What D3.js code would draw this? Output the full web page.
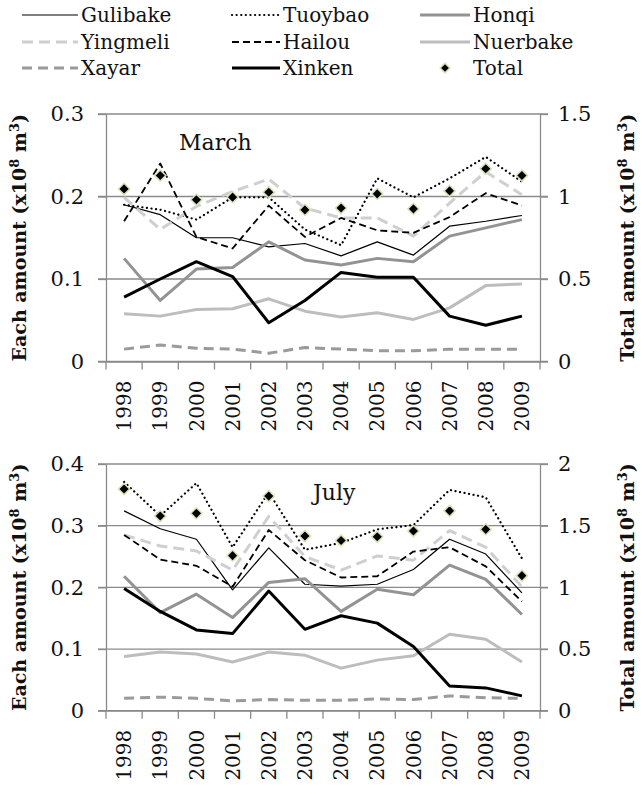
<!DOCTYPE html>
<html lang="en">
<meta charset="utf-8">
<head>
    <script src="https://d3js.org/d3.v7.min.js"></script>
    <style>
        body { margin: 0; background: #fff; }
        svg { font-family: "DejaVu Serif", serif; }
    </style>
</head>
<body>
<div id="chart"></div>
<script>
// years on the x axis
var years = ["1998","1999","2000","2001","2002","2003","2004","2005","2006","2007","2008","2009"];

// March values (x10^8 m3)
var marGulibake = [0.190,0.178,0.150,0.150,0.139,0.143,0.128,0.145,0.129,0.164,0.170,0.177];
var marTuoybao  = [0.190,0.184,0.172,0.199,0.199,0.160,0.141,0.222,0.199,0.222,0.248,0.218];
var marHonqi    = [0.125,0.074,0.112,0.114,0.145,0.123,0.117,0.125,0.121,0.152,0.162,0.172];
var marYingmeli = [0.199,0.160,0.188,0.206,0.221,0.186,0.174,0.174,0.152,0.192,0.230,0.202];
var marHailou   = [0.170,0.240,0.151,0.137,0.189,0.151,0.174,0.159,0.156,0.175,0.204,0.189];
var marNuerbake = [0.058,0.055,0.063,0.064,0.076,0.061,0.054,0.059,0.051,0.065,0.092,0.094];
var marXayar    = [0.015,0.020,0.016,0.015,0.010,0.017,0.015,0.013,0.013,0.015,0.015,0.015];
var marXinken   = [0.078,0.100,0.121,0.103,0.047,0.074,0.108,0.102,0.102,0.055,0.044,0.055];
var marTotal    = [1.046,1.127,0.980,0.996,1.026,0.919,0.930,1.016,0.925,1.034,1.168,1.127];

// July values (x10^8 m3)
var julGulibake = [0.324,0.295,0.278,0.196,0.264,0.205,0.202,0.205,0.229,0.278,0.254,0.191];
var julTuoybao  = [0.371,0.316,0.369,0.265,0.354,0.261,0.272,0.294,0.301,0.358,0.346,0.247];
var julHonqi    = [0.218,0.159,0.189,0.151,0.208,0.214,0.161,0.197,0.188,0.236,0.213,0.156];
var julYingmeli = [0.285,0.267,0.259,0.228,0.315,0.250,0.228,0.251,0.244,0.292,0.265,0.201];
var julHailou   = [0.285,0.245,0.235,0.201,0.293,0.244,0.216,0.218,0.258,0.265,0.234,0.177];
var julNuerbake = [0.088,0.095,0.092,0.079,0.095,0.090,0.069,0.082,0.089,0.124,0.116,0.079];
var julXayar    = [0.020,0.022,0.020,0.016,0.018,0.017,0.017,0.019,0.018,0.024,0.021,0.020];
var julXinken   = [0.198,0.161,0.131,0.125,0.194,0.132,0.154,0.142,0.104,0.040,0.037,0.024];
var julTotal    = [1.797,1.578,1.600,1.257,1.740,1.416,1.380,1.410,1.457,1.620,1.470,1.095];

// tick labels
var marLeftTicks  = [0, 0.1, 0.2, 0.3];
var marRightTicks = [0, 0.5, 1, 1.5];
var julLeftTicks  = [0, 0.1, 0.2, 0.3, 0.4];
var julRightTicks = [0, 0.5, 1, 1.5, 2];

// series look
var styles = {
  Gulibake: {color: "#000", width: 1.2, dash: null},
  Tuoybao:  {color: "#000", width: 2.2, dash: "0.1,4.5", cap: "round"},
  Honqi:    {color: "#939393", width: 3, dash: null},
  Yingmeli: {color: "#cfcfcf", width: 3, dash: "11,6"},
  Hailou:   {color: "#000", width: 1.8, dash: "7,4"},
  Nuerbake: {color: "#bdbdbd", width: 3, dash: null},
  Xayar:    {color: "#9a9a9a", width: 3, dash: "10,6"},
  Xinken:   {color: "#000", width: 3, dash: null}
};
var names = ["Gulibake","Tuoybao","Honqi","Yingmeli","Hailou","Nuerbake","Xayar","Xinken"];

var svg = d3.select("#chart").append("svg")
    .attr("width", 643).attr("height", 787);

var left = 106, right = 540;
var x = d3.scaleBand().domain(years).range([left, right]);

function panel(top, bottom, leftMax, rightMax, lt, rt, label, labelX, series, total) {
  var y = d3.scaleLinear().domain([0, leftMax]).range([bottom, top]);
  var y2 = d3.scaleLinear().domain([0, rightMax]).range([bottom, top]);
  var g = svg.append("g");

  // grid
  g.selectAll(".grid").data(lt.filter(function(d){ return d > 0; })).enter()
    .append("line")
    .attr("x1", left - 8).attr("x2", right + 8)
    .attr("y1", function(d){ return y(d); }).attr("y2", function(d){ return y(d); })
    .attr("stroke", "#8a8a8a").attr("stroke-width", 1.3);

  // left axis
  var la = g.append("g").attr("transform", "translate(" + left + ",0)")
    .call(d3.axisLeft(y).tickValues(lt).tickFormat(function(d){ return d; }).tickSize(8).tickSizeOuter(0));
  // right axis
  var ra = g.append("g").attr("transform", "translate(" + right + ",0)")
    .call(d3.axisRight(y2).tickValues(rt).tickFormat(function(d){ return d; }).tickSize(8).tickSizeOuter(0));
  // bottom axis with ticks on band edges
  var xa = g.append("g").attr("transform", "translate(0," + bottom + ")")
    .call(d3.axisBottom(x).tickSize(0));
  g.append("line").attr("x1", left - 8).attr("x2", right + 8)
    .attr("y1", bottom).attr("y2", bottom).attr("stroke", "#8a8a8a").attr("stroke-width", 1.3);
  g.selectAll(".xt").data(years.concat(["end"])).enter().append("line")
    .attr("x1", function(d, i){ return left + i * x.bandwidth(); })
    .attr("x2", function(d, i){ return left + i * x.bandwidth(); })
    .attr("y1", bottom).attr("y2", bottom + 8)
    .attr("stroke", "#8a8a8a").attr("stroke-width", 1.3);

  [la, ra, xa].forEach(function(a){
    a.select(".domain").attr("stroke", "#8a8a8a").attr("stroke-width", 1.3);
    a.selectAll(".tick line").attr("stroke", "#8a8a8a").attr("stroke-width", 1.3);
    a.selectAll("text").attr("font-family", "DejaVu Serif").attr("font-size", 21).attr("fill", "#111");
  });
  la.selectAll("text").attr("x", -22);
  ra.selectAll("text").attr("x", 18);
  xa.selectAll("text")
    .attr("font-size", 20)
    .attr("transform", "rotate(-90)")
    .attr("text-anchor", "end")
    .attr("x", -19).attr("y", 0).attr("dy", "0.36em");

  var line = d3.line()
    .x(function(d, i){ return x(years[i]) + x.bandwidth() / 2; })
    .y(function(d){ return y(d); });

  names.forEach(function(n){
    var s = styles[n];
    g.append("path").datum(series[n])
      .attr("fill", "none")
      .attr("stroke", s.color)
      .attr("stroke-width", s.width)
      .attr("stroke-dasharray", s.dash)
      .attr("stroke-linecap", s.cap || "butt")
      .attr("stroke-linejoin", "round")
      .attr("d", line);
  });

  g.selectAll(".tot").data(total).enter().append("path")
    .attr("d", d3.symbol().type(d3.symbolDiamond2).size(80))
    .attr("transform", function(d, i){
      return "translate(" + (x(years[i]) + x.bandwidth() / 2) + "," + y2(d) + ")";
    })
    .attr("fill", "#000").attr("stroke", "#d6e3b5").attr("stroke-width", 1.5);

  g.append("text").attr("x", labelX).attr("y", top + 36)
    .attr("font-size", 22).attr("fill", "#111").text(label);

  var mid = (top + bottom) / 2;
  var t1 = g.append("text").attr("transform", "translate(26," + mid + ") rotate(-90)")
    .attr("text-anchor", "middle").attr("font-size", 19).attr("font-weight", "bold").attr("fill", "#111");
  t1.append("tspan").text("Each amount (x10");
  t1.append("tspan").attr("dy", -7).attr("font-size", 13).text("8");
  t1.append("tspan").attr("dy", 7).text(" m");
  t1.append("tspan").attr("dy", -7).attr("font-size", 13).text("3");
  t1.append("tspan").attr("dy", 7).text(")");

  var t2 = g.append("text").attr("transform", "translate(634," + mid + ") rotate(-90)")
    .attr("text-anchor", "middle").attr("font-size", 19).attr("font-weight", "bold").attr("fill", "#111");
  t2.append("tspan").text("Total amount (x10");
  t2.append("tspan").attr("dy", -7).attr("font-size", 13).text("8");
  t2.append("tspan").attr("dy", 7).text(" m");
  t2.append("tspan").attr("dy", -7).attr("font-size", 13).text("3");
  t2.append("tspan").attr("dy", 7).text(")");
}

panel(114, 361.5, 0.3, 1.5, marLeftTicks, marRightTicks, "March", 179,
  {Gulibake: marGulibake, Tuoybao: marTuoybao, Honqi: marHonqi, Yingmeli: marYingmeli,
   Hailou: marHailou, Nuerbake: marNuerbake, Xayar: marXayar, Xinken: marXinken}, marTotal);

panel(464, 710.7, 0.4, 2, julLeftTicks, julRightTicks, "July", 313,
  {Gulibake: julGulibake, Tuoybao: julTuoybao, Honqi: julHonqi, Yingmeli: julYingmeli,
   Hailou: julHailou, Nuerbake: julNuerbake, Xayar: julXayar, Xinken: julXinken}, julTotal);

// legend
var legendNames = ["Gulibake","Tuoybao","Honqi","Yingmeli","Hailou","Nuerbake","Xayar","Xinken","Total"];
var colX = [22, 232, 420];
var colW = [56, 48, 50];
var rowY = [15, 42, 68];
var lg = svg.append("g");
legendNames.forEach(function(n, i){
  var c = i % 3, r = Math.floor(i / 3);
  var lx = colX[c], ly = rowY[r];
  if (n === "Total") {
    lg.append("path").attr("d", d3.symbol().type(d3.symbolDiamond2).size(60))
      .attr("transform", "translate(" + (lx + colW[c] / 2) + "," + ly + ")")
      .attr("fill", "#000").attr("stroke", "#d6e3b5").attr("stroke-width", 1.5);
  } else {
    var s = styles[n];
    lg.append("line").attr("x1", lx).attr("x2", lx + colW[c]).attr("y1", ly).attr("y2", ly)
      .attr("stroke", s.color).attr("stroke-width", s.width)
      .attr("stroke-dasharray", s.dash).attr("stroke-linecap", s.cap || "butt");
  }
  lg.append("text").attr("x", lx + colW[c] + 3).attr("y", ly).attr("dy", "0.35em")
    .attr("font-size", 20).attr("fill", "#111").text(n);
});
</script>
</body>
</html>
